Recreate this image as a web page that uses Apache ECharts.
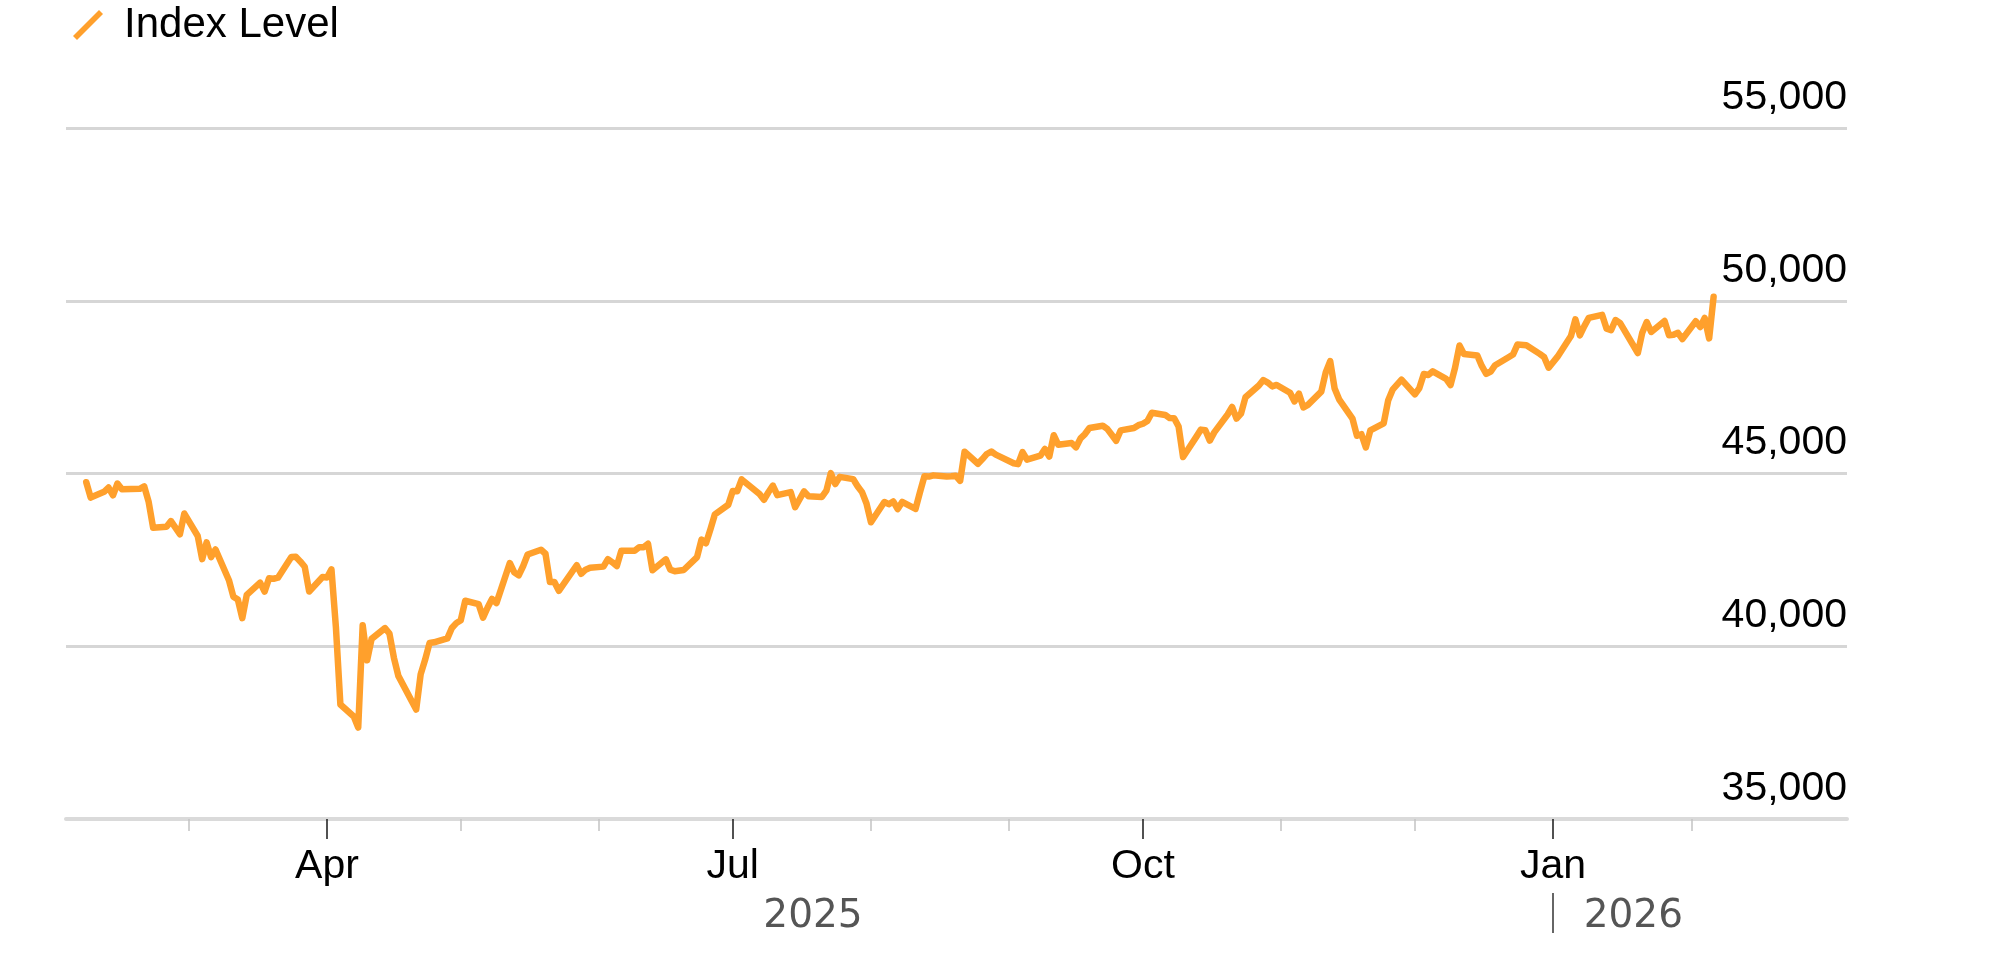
<!DOCTYPE html>
<html><head><meta charset="utf-8">
<script src="https://cdn.jsdelivr.net/npm/echarts@6/dist/echarts.min.js"></script>
<style>html,body{margin:0;padding:0;background:#fff}#c{width:2000px;height:979px}</style>
</head><body><div id="c"></div>
<script>
const seriesName = 'Index Level';

// [day, close] per month
const feb2025 = [[6,44747],[7,44303],[10,44470],[11,44594],[12,44369],[13,44711],[14,44546],[18,44556],[19,44628],[20,44177],[21,43428],[24,43461],[25,43621],[26,43433],[27,43240],[28,43841]];
const mar2025 = [[3,43191],[4,42521],[5,43007],[6,42579],[7,42802],[10,41912],[11,41433],[12,41351],[13,40814],[14,41488],[17,41842],[18,41581],[19,41965],[20,41953],[21,41985],[24,42583],[25,42588],[26,42455],[27,42300],[28,41584],[31,42002]];
const apr2025 = [[1,41990],[2,42225],[3,40546],[4,38315],[7,37966],[8,37646],[9,40608],[10,39594],[11,40213],[14,40525],[15,40369],[16,39669],[17,39142],[21,38170],[22,39187],[23,39607],[24,40093],[25,40114],[28,40228],[29,40528],[30,40669]];
const may2025 = [[1,40753],[2,41317],[5,41219],[6,40829],[7,41114],[8,41368],[9,41249],[12,42410],[13,42140],[14,42051],[15,42323],[16,42655],[19,42792],[20,42677],[21,41860],[22,41859],[23,41603],[27,42344],[28,42099],[29,42216],[30,42270]];
const jun2025 = [[2,42305],[3,42520],[4,42428],[5,42320],[6,42763],[9,42762],[10,42867],[11,42866],[12,42968],[13,42198],[16,42515],[17,42216],[18,42172],[20,42207],[23,42582],[24,43089],[25,42982],[26,43387],[27,43819],[30,44095]];
const jul2025 = [[1,44495],[2,44484],[3,44829],[7,44406],[8,44241],[9,44458],[10,44651],[11,44372],[14,44460],[15,44023],[16,44255],[17,44484],[18,44342],[21,44323],[22,44502],[23,45010],[24,44694],[25,44902],[28,44838],[29,44633],[30,44461],[31,44131]];
const aug2025 = [[1,43589],[4,44174],[5,44112],[6,44193],[7,43969],[8,44176],[11,43975],[12,44459],[13,44922],[14,44911],[15,44946],[18,44912],[19,44922],[20,44938],[21,44786],[22,45632],[25,45282],[26,45418],[27,45565],[28,45637],[29,45545]];
const sep2025 = [[2,45296],[3,45271],[4,45621],[5,45401],[8,45515],[9,45711],[10,45491],[11,46108],[12,45834],[15,45883],[16,45758],[17,46018],[18,46142],[19,46315],[22,46382],[23,46293],[24,46121],[25,45947],[26,46247],[29,46316],[30,46398]];
const oct2025 = [[1,46441],[2,46520],[3,46758],[6,46695],[7,46603],[8,46602],[9,46358],[10,45480],[13,46068],[14,46270],[15,46253],[16,45952],[17,46191],[20,46707],[21,46925],[22,46590],[23,46735],[24,47207],[27,47545],[28,47706],[29,47632],[30,47522],[31,47563]];
const nov2025 = [[3,47337],[4,47085],[5,47311],[6,46912],[7,46987],[10,47368],[11,47927],[12,48254],[13,47457],[14,47147],[17,46590],[18,46091],[19,46138],[20,45752],[21,46245],[24,46448],[25,47112],[26,47427],[28,47716]];
const dec2025 = [[1,47289],[2,47474],[3,47882],[4,47851],[5,47955],[8,47739],[9,47560],[10,48058],[11,48704],[12,48458],[15,48416],[16,48114],[17,47886],[18,47952],[19,48135],[22,48363],[23,48442],[24,48731],[26,48711],[29,48462],[30,48367],[31,48063]];
const jan2026 = [[2,48382],[5,48977],[6,49462],[7,48996],[8,49266],[9,49504],[12,49590],[13,49191],[14,49149],[15,49442],[16,49359],[20,48488],[21,49077],[22,49384],[23,49098],[26,49412],[27,49003],[28,49015],[29,49071],[30,48892]];
const feb2026 = [[2,49407],[3,49241],[4,49501],[5,48909],[6,50116]];

const monthData = [['2025-02',feb2025],['2025-03',mar2025],['2025-04',apr2025],['2025-05',may2025],['2025-06',jun2025],['2025-07',jul2025],['2025-08',aug2025],['2025-09',sep2025],['2025-10',oct2025],['2025-11',nov2025],['2025-12',dec2025],['2026-01',jan2026],['2026-02',feb2026]];

// axis ticks and labels
const monthTickDates = ['2025-03-01','2025-04-01','2025-05-01','2025-06-01','2025-07-01','2025-08-01','2025-09-01','2025-10-01','2025-11-01','2025-12-01','2026-01-01','2026-02-01'];
const quarterTickDates = ['2025-04-01','2025-07-01','2025-10-01','2026-01-01'];
const monthNames = ['Jan','Feb','Mar','Apr','May','Jun','Jul','Aug','Sep','Oct','Nov','Dec'];
const yearLabelDates = ['2025-07-19','2026-01-19'];
const yearBoundaryDates = ['2026-01-01'];
const yTicks = {min:35000, max:55000, step:5000};

function t(s, h){ const p = s.split('-').map(Number); return new Date(p[0], p[1]-1, p[2]||1, h||0).getTime(); }

const points = [];
monthData.forEach(function(m){
  m[1].forEach(function(r){ points.push([t(m[0] + '-' + String(r[0]).padStart(2,'0')), r[1]]); });
});

const xMin = t('2025-02-01', 11);
const xMax = t('2026-03-07', 22);
const quarterTicks = quarterTickDates.map(function(s){return t(s);});
const minorTicks = monthTickDates.filter(function(s){return quarterTickDates.indexOf(s) < 0;}).map(function(s){return t(s);});
const FONT = 'Liberation Sans, Arial, Helvetica, sans-serif';
const LINE = '#ffa02c';

const chart = echarts.init(document.getElementById('c'), null, {renderer:'canvas'});
chart.setOption({
  animation:false,
  backgroundColor:'#ffffff',
  textStyle:{fontFamily:FONT},
  legend:{
    show:true, left:73, top:4, padding:0, itemWidth:30, itemHeight:30, itemGap:20,
    icon:'path://M0,26L26,0L30,4L4,30Z',
    itemStyle:{borderWidth:0},
    textStyle:{fontSize:42, color:'#000', fontFamily:FONT, padding:[0,0,0,16]},
    data:[seriesName]
  },
  grid:{left:66, right:153, top:128, bottom:160, containLabel:false, outerBoundsMode:'none'},
  xAxis:[
    {type:'value', min:xMin, max:xMax, position:'bottom', scale:true,
     axisLine:{show:true, lineStyle:{color:'#dadada', width:4}},
     axisTick:{show:true, customValues:quarterTicks, length:20, lineStyle:{color:'#1a1a1a', width:1.5}},
     axisLabel:{show:true, customValues:quarterTicks, formatter:function(v){return monthNames[new Date(v).getMonth()];}, fontSize:41, color:'#000', margin:27, fontFamily:FONT},
     splitLine:{show:false}},
    {type:'value', min:xMin, max:xMax, position:'bottom', scale:true,
     axisLine:{show:false},
     axisTick:{show:true, customValues:minorTicks, length:12, lineStyle:{color:'#c4c4c4', width:1.5}},
     axisLabel:{show:false}, splitLine:{show:false}},
    {type:'value', min:xMin, max:xMax, position:'bottom', offset:74, scale:true,
     axisLine:{show:false},
     axisTick:{show:true, customValues:yearBoundaryDates.map(function(s){return t(s);}), length:40, lineStyle:{color:'#333', width:1.5}},
     axisLabel:{show:true, customValues:yearLabelDates.map(function(s){return t(s);}), formatter:function(v){return String(new Date(v).getFullYear());}, fontSize:39, color:'#555', margin:4, fontFamily:'DejaVu Sans'},
     splitLine:{show:false}}
  ],
  yAxis:{
    type:'value', min:yTicks.min, max:yTicks.max, interval:yTicks.step, position:'right',
    axisLine:{show:false}, axisTick:{show:false},
    splitLine:{show:true, lineStyle:{color:'#d6d6d6', width:3}},
    axisLabel:{inside:true, margin:0, verticalAlign:'bottom', padding:[0,0,10,0], fontSize:41, color:'#000', fontFamily:FONT,
      formatter:function(v){return v.toLocaleString('en-US');}}
  },
  series:[{
    name:seriesName, type:'line', xAxisIndex:0, yAxisIndex:0, data:points,
    showSymbol:false, symbol:'none', lineStyle:{color:LINE, width:6.5, join:'round', cap:'round'}, itemStyle:{color:LINE}, z:5
  }]
});
</script>
</body></html>
